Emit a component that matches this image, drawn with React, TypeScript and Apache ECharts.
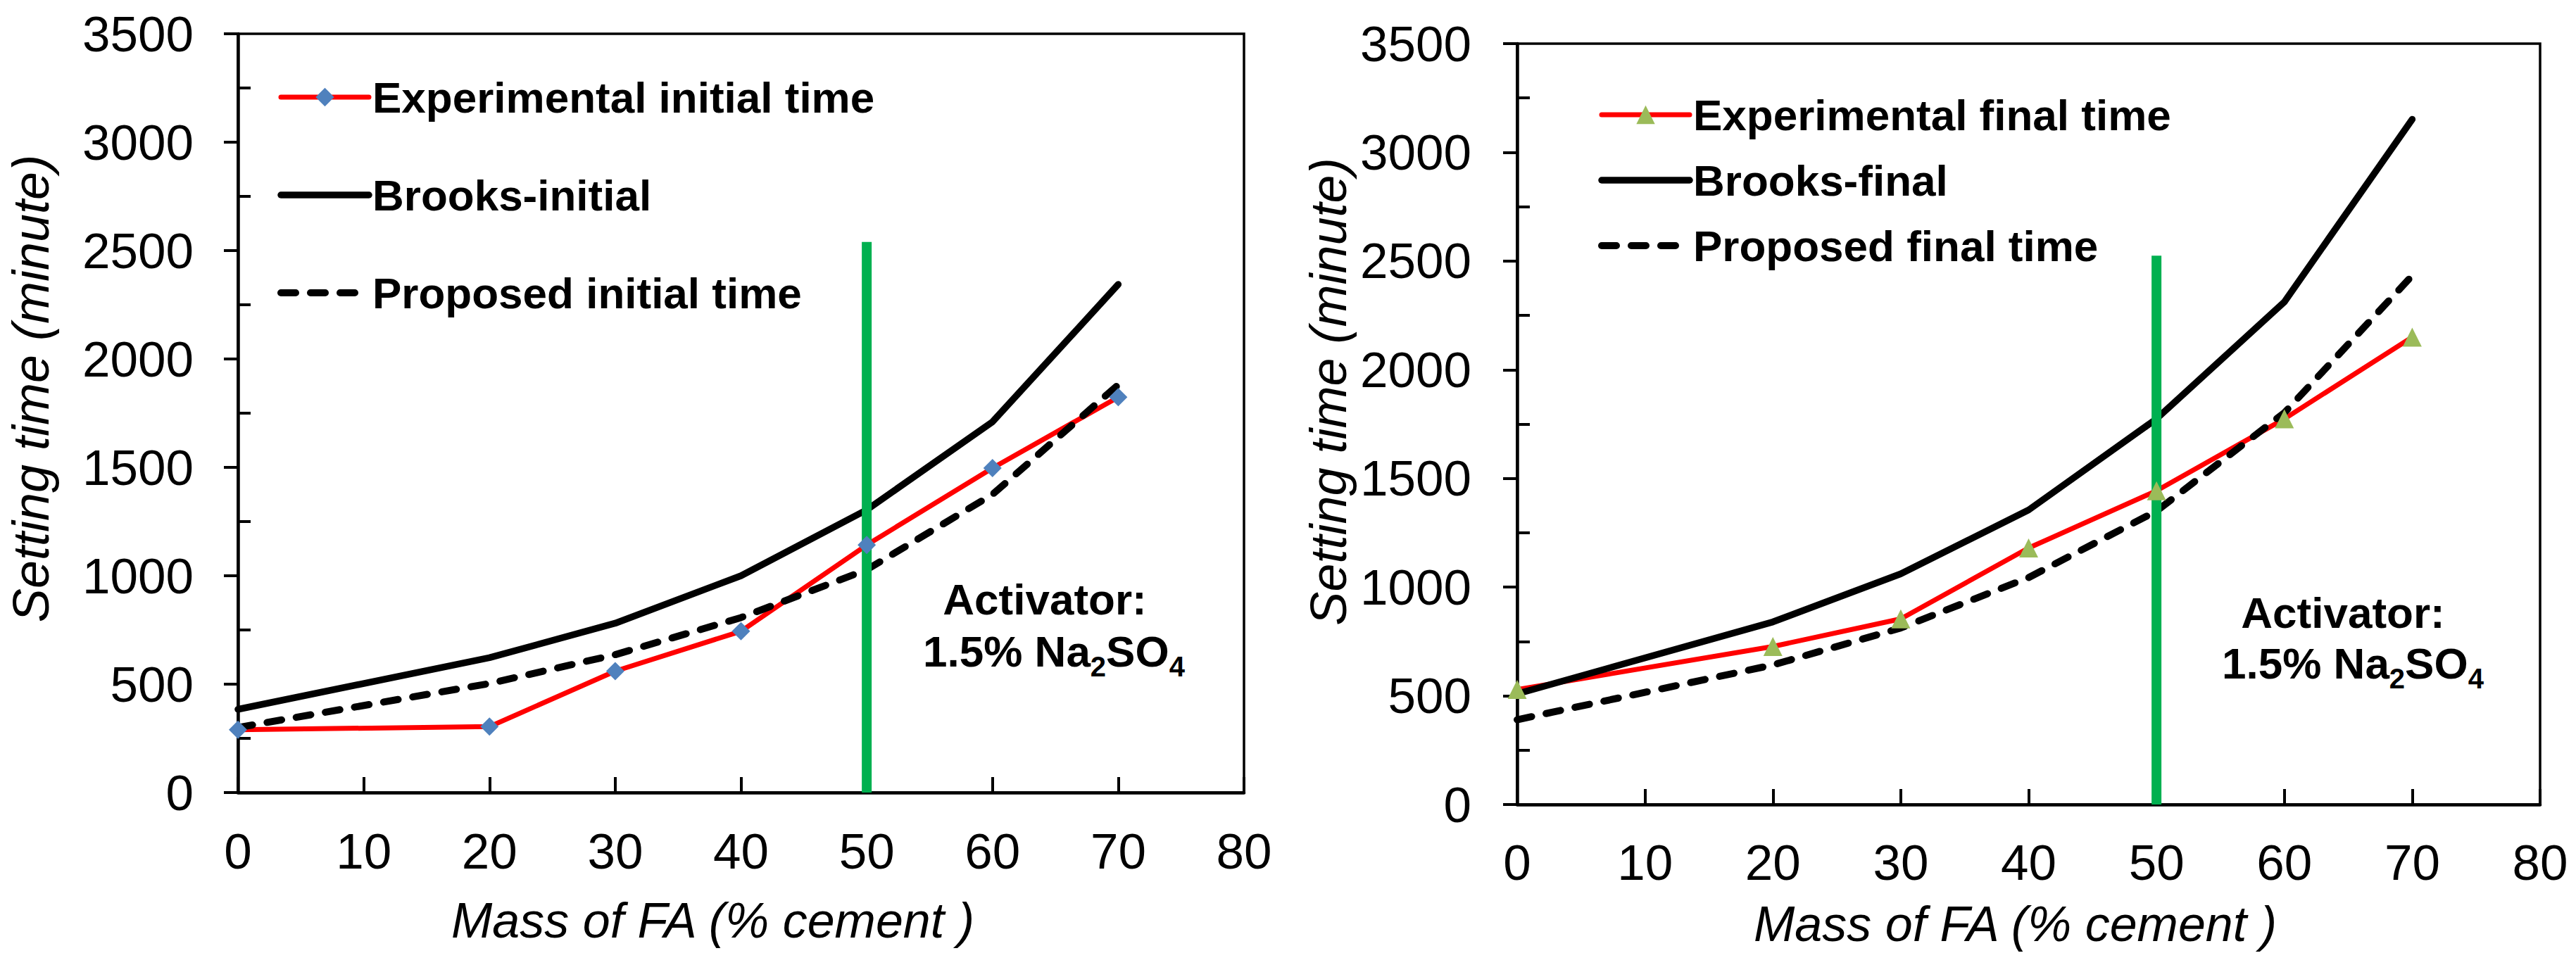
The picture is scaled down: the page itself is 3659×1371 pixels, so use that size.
import { useEffect, useRef } from 'react';
import * as echarts from 'echarts';

// FA content (% of cement) where setting times were measured
const massFA = [0, 20, 30, 40, 50, 60, 70];

// left panel: initial setting time (minute)
const expInitial = [290, 304, 560, 744, 1142, 1497, 1824];
const brooksInitial = [384, 622, 781, 1000, 1304, 1710, 2344];
const proposedInitial = [300, 503, 636, 807, 1028, 1375, 1881];

// right panel: final setting time (minute)
const expFinal = [529, 727, 854, 1180, 1443, 1774, 2150];
const brooksFinal = [509, 840, 1061, 1355, 1774, 2312, 3152];
const proposedFinal = [390, 642, 812, 1044, 1350, 1802, 2433];

// green marker line at 50 % FA
const activatorX = 50;
const activatorTopInitial = 2540;
const activatorTopFinal = 2525;

const minorYTicks = [250, 750, 1250, 1750, 2250, 2750, 3250];

const initialNames = ['Experimental initial time', 'Brooks-initial', 'Proposed initial time'];
const finalNames = ['Experimental final time', 'Brooks-final', 'Proposed final time'];
const xName = 'Mass of FA (% cement )';
const yName = 'Setting time (minute)';

const FONT = "'Liberation Sans', Arial, sans-serif";

const RED_W = 7;
const SOLID_W = 9.5;
const DASH_W = 10;

const pairs = (ys: number[]) => massFA.map((x, i) => [x, ys[i]]);

function xAxisFor(gridIndex: number, nameGap: number, shift: number, labelMargin: number) {
  return {
    type: 'value',
    gridIndex,
    min: 0,
    max: 80,
    interval: 10,
    name: xName,
    nameLocation: 'middle',
    nameGap,
    nameTextStyle: {
      fontFamily: FONT,
      fontStyle: 'italic',
      fontSize: 70,
      color: '#000',
      padding: [0, shift * 2, 0, 0],
    },
    axisLine: { show: true, lineStyle: { color: '#000', width: 4.5 } },
    axisTick: { show: true, inside: true, length: 22, lineStyle: { color: '#000', width: 4 } },
    axisLabel: { fontFamily: FONT, fontSize: 71, color: '#000', margin: labelMargin },
    splitLine: { show: false },
  };
}

function yAxesFor(gridIndex: number, nameGap: number, shift: number, labelMargin: number) {
  return [
    {
      type: 'value',
      gridIndex,
      position: 'left',
      min: 0,
      max: 3500,
      interval: 500,
      name: yName,
      nameLocation: 'middle',
      nameGap,
      nameTextStyle: {
        fontFamily: FONT,
        fontStyle: 'italic',
        fontSize: 72,
        color: '#000',
        padding: [0, 0, 0, shift * 2],
      },
      axisLine: { show: true, lineStyle: { color: '#000', width: 4.5 } },
      axisTick: { show: true, inside: false, length: 20, lineStyle: { color: '#000', width: 4 } },
      axisLabel: {
        fontFamily: FONT,
        fontSize: 71,
        color: '#000',
        margin: labelMargin,
        formatter: (v: number) => String(v),
      },
      splitLine: { show: false },
    },
    {
      // inward minor ticks between the labelled values
      type: 'value',
      gridIndex,
      position: 'left',
      min: 0,
      max: 3500,
      interval: 500,
      axisLine: { show: false },
      axisLabel: { show: false },
      axisTick: {
        show: true,
        inside: true,
        length: 18,
        customValues: minorYTicks,
        lineStyle: { color: '#000', width: 4 },
      },
      splitLine: { show: false },
    },
  ];
}

function seriesFor(
  names: string[],
  xAxisIndex: number,
  yAxisIndex: number,
  exp: number[],
  brooks: number[],
  proposed: number[],
  symbol: string,
  symbolSize: number,
  symbolColor: string,
  activatorTop: number,
) {
  return [
    {
      type: 'line',
      name: names[0],
      xAxisIndex,
      yAxisIndex,
      data: pairs(exp),
      symbol,
      symbolSize,
      itemStyle: { color: symbolColor },
      lineStyle: { color: '#FF0000', width: RED_W, cap: 'round', join: 'round' },
    },
    {
      type: 'line',
      name: names[1],
      xAxisIndex,
      yAxisIndex,
      data: pairs(brooks),
      symbol: 'none',
      itemStyle: { color: 'rgba(0,0,0,0)' },
      lineStyle: { color: '#000', width: SOLID_W, cap: 'round', join: 'round' },
    },
    {
      type: 'line',
      name: names[2],
      xAxisIndex,
      yAxisIndex,
      data: pairs(proposed),
      symbol: 'none',
      itemStyle: { color: 'rgba(0,0,0,0)' },
      lineStyle: { color: '#000', width: DASH_W, type: [21, 21], cap: 'round', join: 'round' },
    },
    {
      type: 'line',
      name: 'activator',
      xAxisIndex,
      yAxisIndex,
      data: [
        [activatorX, 0],
        [activatorX, activatorTop],
      ],
      symbol: 'none',
      silent: true,
      lineStyle: { color: '#00B050', width: 14, cap: 'butt' },
    },
  ];
}

function legendFor(names: string[], left: number, top: number, itemGap: number) {
  const widths = [RED_W, SOLID_W, DASH_W];
  return {
    data: names.map((name, i) => ({
      name,
      lineStyle: { width: widths[i], cap: 'round' },
    })),
    orient: 'vertical',
    left,
    top,
    padding: 0,
    itemWidth: 125,
    itemHeight: 33,
    itemGap,
    selectedMode: false,
    textStyle: { fontFamily: FONT, fontSize: 62, fontWeight: 'bold', color: '#000', lineHeight: 70 },
  };
}

function annotation(x1: number, y1: number, x2: number, y2: number) {
  return [
    {
      type: 'text',
      x: x1,
      y: y1,
      style: {
        text: 'Activator:',
        fontFamily: FONT,
        fontSize: 62,
        fontWeight: 'bold',
        fill: '#000',
        align: 'center',
        verticalAlign: 'middle',
      },
    },
    {
      type: 'text',
      x: x2,
      y: y2,
      style: {
        text: '{b|1.5% Na}{s|2}{b|SO}{s|4}',
        align: 'center',
        verticalAlign: 'middle',
        rich: {
          b: { fontFamily: FONT, fontSize: 62, fontWeight: 'bold', fill: '#000', lineHeight: 84 },
          s: {
            fontFamily: FONT,
            fontSize: 40,
            fontWeight: 'bold',
            fill: '#000',
            lineHeight: 40,
            verticalAlign: 'bottom',
          },
        },
      },
    },
  ];
}

export default function App() {
  const ref = useRef<HTMLDivElement>(null);

  useEffect(() => {
    document.body.style.margin = '0';
    if (!ref.current) return;
    const chart = echarts.init(ref.current, undefined, { renderer: 'svg' });

    const option: any = {
      animation: false,
      backgroundColor: '#fff',
      grid: [
        { left: 338, top: 48, width: 1429, height: 1078, show: true, borderColor: '#000', borderWidth: 3.5 },
        { left: 2155, top: 62, width: 1453, height: 1081, show: true, borderColor: '#000', borderWidth: 3.5 },
      ],
      xAxis: [xAxisFor(0, 147, 40, 48), xAxisFor(1, 135, 19, 47)],
      yAxis: [...yAxesFor(0, 258, 35, 63), ...yAxesFor(1, 232, 46, 65)],
      legend: [legendFor(initialNames, 394, 103, 69), legendFor(finalNames, 2270, 128, 23)],
      series: [
        ...seriesFor(initialNames, 0, 0, expInitial, brooksInitial, proposedInitial, 'diamond', 26, '#4F81BD', activatorTopInitial),
        ...seriesFor(finalNames, 1, 2, expFinal, brooksFinal, proposedFinal, 'triangle', 27, '#9BBB59', activatorTopFinal),
      ],
      graphic: [...annotation(1484, 851, 1497, 925), ...annotation(3328, 870, 3342, 942)],
    };

    chart.setOption(option);

    return () => {
      chart.dispose();
    };
  }, []);

  return <div ref={ref} style={{ width: '3659px', height: '1371px' }} />;
}
